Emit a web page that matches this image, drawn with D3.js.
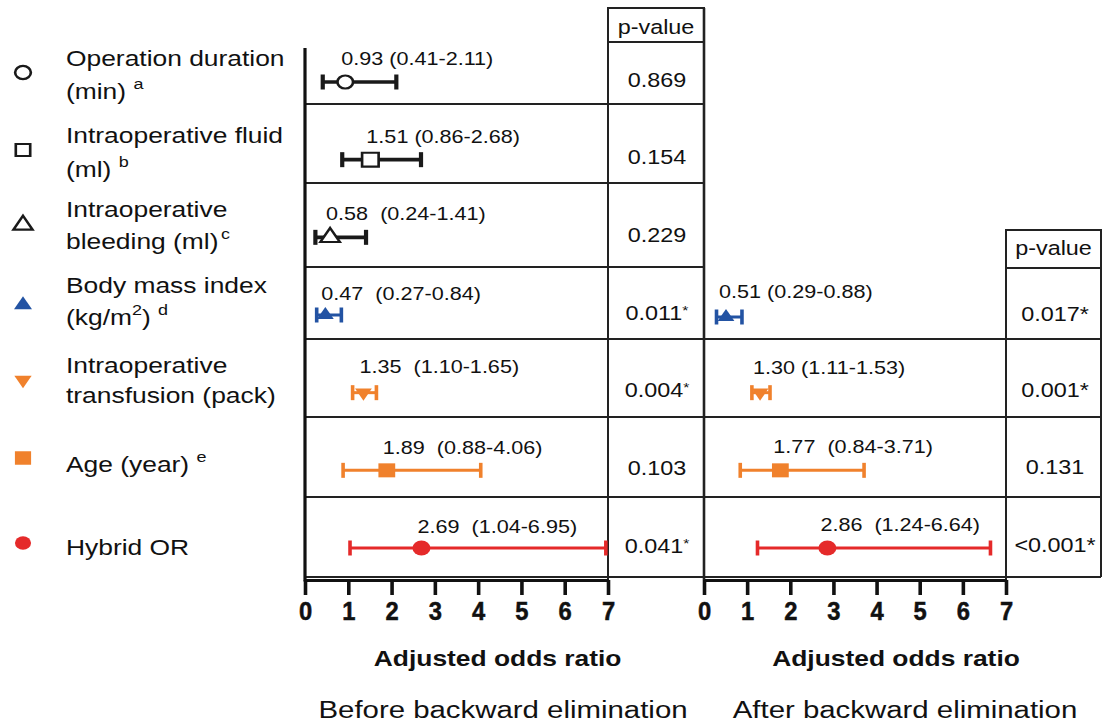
<!DOCTYPE html>
<html><head><meta charset="utf-8">
<script src="https://cdn.jsdelivr.net/npm/d3@7"></script>
<style>
html,body{margin:0;padding:0;background:#fff;}
svg{display:block;font-family:"Liberation Sans",Arial,Helvetica,sans-serif;}
</style></head><body>
<svg id="chart" width="1106" height="723"></svg>
<script>
// ---------------- DATA ----------------
const categories = ["Operation duration","Intraoperative fluid","Intraoperative bleeding","Body mass index","Intraoperative transfusion","Age","Hybrid OR"];
// label lines: each line is a list of [text, isSuperscript]
const labelLines = [
  [[["Operation duration",0]], [["(min) ",0],["a",1]]],
  [[["Intraoperative fluid",0]], [["(ml) ",0],["b",1]]],
  [[["Intraoperative",0]], [["bleeding (ml)",0],["c",1]]],
  [[["Body mass index",0]], [["(kg/m",0],["2",1],[") ",0],["d",1]]],
  [[["Intraoperative",0]], [["transfusion (pack)",0]]],
  [[["Age (year) ",0],["e",1]]],
  [[["Hybrid OR",0]]]
];
const beforeOR = [0.93, 1.51, 0.58, 0.47, 1.35, 1.89, 2.69];
const beforeLo = [0.41, 0.86, 0.24, 0.27, 1.10, 0.88, 1.04];
const beforeHi = [2.11, 2.68, 1.41, 0.84, 1.65, 4.06, 6.95];
const beforeSep = [" ", " ", "  ", "  ", "  ", "  ", "  "];
const beforeP = ["0.869", "0.154", "0.229", "0.011", "0.004", "0.103", "0.041"];
const beforeSig = [false, false, false, true, true, false, true];

const afterCats = ["Body mass index","Intraoperative transfusion","Age","Hybrid OR"];
const afterOR = [0.51, 1.30, 1.77, 2.86];
const afterLo = [0.29, 1.11, 0.84, 1.24];
const afterHi = [0.88, 1.53, 3.71, 6.64];
const afterSep = [" ", " ", "  ", "  "];
const afterP = ["0.017*", "0.001*", "0.131", "<0.001*"];

const tickValues = [0, 1, 2, 3, 4, 5, 6, 7];
const axisTitle = "Adjusted odds ratio";
const panelTitles = ["Before backward elimination", "After backward elimination"];
const pHeader = "p-value";

// ---------------- STYLE / LAYOUT ----------------
const SX = 1.2; // horizontal stretch of the original figure
const colors = ["#1a1a1a","#1a1a1a","#1a1a1a","#2353a3","#f0812c","#f0812c","#e52a2a"];
const symType = [d3.symbolCircle, d3.symbolSquare, d3.symbolTriangle, d3.symbolTriangle, d3.symbolTriangle, d3.symbolSquare, d3.symbolCircle];
const symFill = [false,false,false,true,true,true,true];
const symRot = [0,0,0,0,180,0,0];
const symSizeChart = [133, 190, 113, 85, 85, 196, 177];
const symSizeLegend = [135, 144, 110, 97, 90, 182, 141];
const legendMarkY = [72.5, 150, 225, 305, 380, 458, 543];
const labelBase = [[66, 98.5],[142.7, 177],[216.7, 249],[293.3, 325],[373, 403],[471.7],[555]];
const valBaseL = [65, 143, 220, 300, 373, 454, 533];
const valBaseR = [298, 374, 453, 531];
const rowBottoms = [104, 183, 267, 339, 417, 497, 577];
const AXIS_Y = 580;
const GRID = "#222";

const svg = d3.select("#chart");
const xL = d3.scaleLinear().domain([0, 7]).range([305, 608]);
const xR = d3.scaleLinear().domain([0, 7]).range([704, 1006]);
const yRow = d3.scalePoint().domain(categories).range([82, 548]);

function stext(g, x, y, size, weight, anchor, sx) {
  return g.append("text")
    .attr("transform", `translate(${x},${y}) scale(${sx || SX},1)`)
    .attr("font-size", size)
    .attr("font-weight", weight || "normal")
    .attr("text-anchor", anchor || "start")
    .attr("fill", "#111")
    .style("white-space", "pre");
}

// ---------------- GRID / TABLE ----------------
const grid = svg.append("g").attr("stroke", GRID).attr("stroke-width", 2).attr("fill", "none");
grid.append("rect").attr("x", xL(7)).attr("y", 8).attr("width", xR(0) - xL(7)).attr("height", 34);
grid.append("line").attr("x1", xL(7)).attr("x2", xL(7)).attr("y1", 8).attr("y2", AXIS_Y);
grid.append("line").attr("x1", xR(0)).attr("x2", xR(0)).attr("y1", 8).attr("y2", AXIS_Y).attr("stroke-width", 2.6);
rowBottoms.forEach(yb => {
  grid.append("line").attr("x1", xL(0)).attr("x2", xR(0)).attr("y1", yb).attr("y2", yb);
});
const pR0 = xR(7), pR1 = 1101;
grid.append("rect").attr("x", pR0).attr("y", 230).attr("width", pR1 - pR0).attr("height", 38);
grid.append("line").attr("x1", pR0).attr("x2", pR0).attr("y1", 230).attr("y2", AXIS_Y);
grid.append("line").attr("x1", pR1).attr("x2", pR1).attr("y1", 230).attr("y2", 577);
rowBottoms.slice(3).forEach(yb => {
  grid.append("line").attr("x1", xR(0)).attr("x2", pR1).attr("y1", yb).attr("y2", yb);
});

// ---------------- AXES ----------------
svg.append("line").attr("x1", xL(0)).attr("x2", xL(0)).attr("y1", 48).attr("y2", AXIS_Y + 1.5)
  .attr("stroke", "#111").attr("stroke-width", 3.2);

function drawAxis(x) {
  const ax = d3.axisBottom(x).tickValues(tickValues).tickSize(15).tickSizeOuter(0).tickFormat(d => d);
  const g = svg.append("g").attr("transform", `translate(0,${AXIS_Y})`).call(ax);
  g.attr("font-family", null).attr("font-size", null);
  g.select(".domain").attr("stroke", "#111").attr("stroke-width", 3.2);
  g.selectAll(".tick line").attr("stroke", "#111").attr("stroke-width", 3.6);
  g.selectAll(".tick text")
    .attr("y", 40).attr("dy", 0)
    .attr("transform", "scale(0.95,1)")
    .attr("font-size", 25).attr("font-weight", "bold").attr("fill", "#111")
    .attr("stroke", "#111").attr("stroke-width", 0.5);
  stext(svg, x(4.45), 666, 22, "bold", "middle").text(axisTitle);
}
drawAxis(xL);
drawAxis(xR);
stext(svg, 503, 718, 24.5, "normal", "middle").text(panelTitles[0]);
stext(svg, 905, 718, 24.5, "normal", "middle").text(panelTitles[1]);

stext(svg, (xL(7) + xR(0)) / 2, 33.5, 19.5, "normal", "middle").text(pHeader);
stext(svg, (pR0 + pR1) / 2, 255, 19.5, "normal", "middle").text(pHeader);

// ---------------- MARKERS ----------------
function marker(g, i, cx, cy, size) {
  const sym = d3.symbol().type(symType[i]).size(size);
  g.append("path")
    .attr("d", sym())
    .attr("transform", `translate(${cx},${cy}) scale(${SX},1) rotate(${symRot[i]})`)
    .attr("fill", symFill[i] ? colors[i] : "#fff")
    .attr("stroke", colors[i])
    .attr("stroke-width", symFill[i] ? 0 : 2.2);
}

function errorBar(g, i, x, y, or, lo, hi) {
  const c = colors[i];
  const w = symFill[i] ? 3 : 3.6;
  g.append("line").attr("x1", x(lo)).attr("x2", x(hi)).attr("y1", y).attr("y2", y)
    .attr("stroke", c).attr("stroke-width", w);
  [lo, hi].forEach(v => {
    g.append("line").attr("x1", x(v)).attr("x2", x(v)).attr("y1", y - 7.5).attr("y2", y + 7.5)
      .attr("stroke", c).attr("stroke-width", w + 0.6);
  });
  marker(g, i, x(or), y, symSizeChart[i]);
}

const fmt = d3.format(".2f");
const plotL = svg.append("g");
categories.forEach((cat, i) => {
  const y = yRow(cat);
  errorBar(plotL, i, xL, y, beforeOR[i], beforeLo[i], beforeHi[i]);
  stext(plotL, xL(beforeOR[i]) - 4, valBaseL[i], 18, "normal", "start")
    .text(`${fmt(beforeOR[i])}${beforeSep[i]}(${fmt(beforeLo[i])}-${fmt(beforeHi[i])})`);
  const t = stext(plotL, (xL(7) + xR(0)) / 2 + 1, y + 4.5, 19.5, "normal", "middle");
  t.append("tspan").text(beforeP[i]);
  if (beforeSig[i]) t.append("tspan").attr("font-size", 13).attr("dy", -5).text("*");
});

const plotR = svg.append("g");
afterCats.forEach((cat, j) => {
  const i = categories.indexOf(cat);
  const y = yRow(cat) + (j === 0 ? 2 : 0);
  errorBar(plotR, i, xR, y, afterOR[j], afterLo[j], afterHi[j]);
  stext(plotR, xR(afterOR[j]) - 7, valBaseR[j], 18, "normal", "start")
    .text(`${fmt(afterOR[j])}${afterSep[j]}(${fmt(afterLo[j])}-${fmt(afterHi[j])})`);
  stext(plotR, (pR0 + pR1) / 2 + 1.5, y + 4, 19.5, "normal", "middle").text(afterP[j]);
});

// ---------------- ROW LABELS (legend) ----------------
const leg = svg.append("g");
categories.forEach((cat, i) => {
  marker(leg, i, 23, legendMarkY[i], symSizeLegend[i]);
  labelLines[i].forEach((line, k) => {
    const t = stext(leg, 66, labelBase[i][k], 22, "normal", "start");
    let up = false;
    line.forEach(([s, sup]) => {
      const ts = t.append("tspan").text(s);
      if (sup && !up) { ts.attr("font-size", 15).attr("dy", -10).attr("dx", s === "c" ? 2 : 0); up = true; }
      else if (!sup && up) { ts.attr("dy", 10); up = false; }
      else if (sup) ts.attr("font-size", 15);
    });
  });
});
</script>
</body></html>
